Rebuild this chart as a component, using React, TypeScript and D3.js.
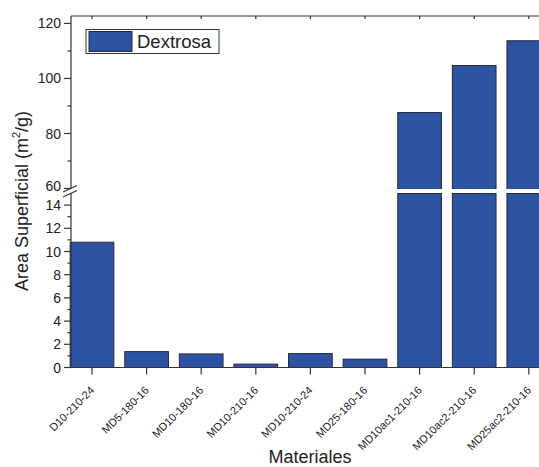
import React, { useEffect, useRef } from 'react';
import * as d3 from 'd3';

// Data
const materials = [
  'D10-210-24',
  'MD5-180-16',
  'MD10-180-16',
  'MD10-210-16',
  'MD10-210-24',
  'MD25-180-16',
  'MD10ac1-210-16',
  'MD10ac2-210-16',
  'MD25ac2-210-16',
];
const areaValues = [10.8, 1.37, 1.17, 0.29, 1.2, 0.72, 87.6, 104.7, 113.7];

const lowerTicks = [0, 2, 4, 6, 8, 10, 12, 14];
const upperTicks = [60, 80, 100, 120];
const lowerMinor = [1, 3, 5, 7, 9, 11, 13];
const upperMinor = [70, 90, 110];

const WIDTH = 539;
const HEIGHT = 467;
const BAR_FILL = '#2f53a3';
const BAR_STROKE = '#23283a';
const AXIS = '#333';
const FONT = 'Arial, "Liberation Sans", sans-serif';

const App: React.FC = () => {
  const svgRef = useRef<SVGSVGElement>(null);

  useEffect(() => {
    document.body.style.margin = '0';
    if (!svgRef.current) return;

    const svg = d3.select(svgRef.current);
    svg.selectAll('*').remove();

    const axisX = 71;

    // Broken y axis: two linear segments
    const yLow = d3.scaleLinear().domain([0, 15]).range([367.5, 193.5]);
    const yHigh = d3.scaleLinear().domain([60, 122.7]).range([188.5, 16]);
    const topFrame = yHigh(122.7);

    const x = d3.scaleBand<string>()
      .domain(materials)
      .range([64.7, 64.7 + 54.6 * materials.length])
      .paddingInner(0.2)
      .paddingOuter(0.1);

    const rows = materials.map((m, i) => ({ name: m, value: areaValues[i] }));

    // Bars - lower segment
    const bars = svg.append('g');
    bars.selectAll('rect.low')
      .data(rows)
      .enter().append('rect')
      .attr('class', 'low')
      .attr('x', d => x(d.name)!)
      .attr('width', x.bandwidth())
      .attr('y', d => yLow(Math.min(d.value, 15)))
      .attr('height', d => yLow(0) - yLow(Math.min(d.value, 15)))
      .attr('fill', BAR_FILL)
      .attr('stroke', BAR_STROKE)
      .attr('stroke-width', 1);

    // Bars - upper segment (only those above the break)
    bars.selectAll('rect.high')
      .data(rows.filter(d => d.value > 60))
      .enter().append('rect')
      .attr('class', 'high')
      .attr('x', d => x(d.name)!)
      .attr('width', x.bandwidth())
      .attr('y', d => yHigh(d.value))
      .attr('height', d => yHigh(60) - yHigh(d.value))
      .attr('fill', BAR_FILL)
      .attr('stroke', BAR_STROKE)
      .attr('stroke-width', 1);

    // cover the stroke at the break edges so the gap stays clean
    bars.selectAll('rect.gap')
      .data(rows.filter(d => d.value > 60))
      .enter().append('rect')
      .attr('x', d => x(d.name)! + 1)
      .attr('width', x.bandwidth() - 2)
      .attr('y', yHigh(60) - 0.5)
      .attr('height', 1)
      .attr('fill', BAR_FILL);

    const axes = svg.append('g')
      .attr('stroke', AXIS)
      .attr('stroke-width', 1.2)
      .attr('fill', 'none');

    // left axis (two pieces)
    axes.append('line')
      .attr('x1', axisX).attr('x2', axisX)
      .attr('y1', topFrame).attr('y2', yHigh(60));
    axes.append('line')
      .attr('x1', axisX).attr('x2', axisX)
      .attr('y1', yLow(15)).attr('y2', yLow(0));

    // top frame + bottom axis
    axes.append('line')
      .attr('x1', axisX).attr('x2', WIDTH)
      .attr('y1', topFrame).attr('y2', topFrame);
    axes.append('line')
      .attr('x1', axisX).attr('x2', WIDTH)
      .attr('y1', yLow(0)).attr('y2', yLow(0));

    // break marks
    [0, 5].forEach(off => {
      axes.append('line')
        .attr('x1', axisX - 8).attr('y1', 192 + off)
        .attr('x2', axisX + 6).attr('y2', 185.5 + off);
    });

    // y ticks
    const majorY = [...lowerTicks.map(v => yLow(v)), ...upperTicks.map(v => yHigh(v))];
    const minorY = [...lowerMinor.map(v => yLow(v)), ...upperMinor.map(v => yHigh(v))];
    majorY.forEach(y => {
      axes.append('line').attr('x1', axisX - 7).attr('x2', axisX).attr('y1', y).attr('y2', y);
    });
    minorY.forEach(y => {
      axes.append('line').attr('x1', axisX - 3.5).attr('x2', axisX).attr('y1', y).attr('y2', y);
    });

    // x ticks bottom (outward) and top (inward)
    materials.forEach(m => {
      const cx = x(m)! + x.bandwidth() / 2;
      axes.append('line').attr('x1', cx).attr('x2', cx).attr('y1', yLow(0)).attr('y2', yLow(0) + 7);
      axes.append('line').attr('x1', cx).attr('x2', cx).attr('y1', topFrame).attr('y2', topFrame + 3);
    });

    // y tick labels
    const labels = svg.append('g')
      .attr('font-family', FONT)
      .attr('fill', '#222');

    lowerTicks.forEach(v => {
      labels.append('text')
        .attr('x', axisX - 10).attr('y', yLow(v))
        .attr('dy', '0.36em')
        .attr('text-anchor', 'end')
        .attr('font-size', 14)
        .text(v);
    });
    upperTicks.forEach(v => {
      labels.append('text')
        .attr('x', axisX - 10).attr('y', yHigh(v))
        .attr('dy', v === 60 ? '0.2em' : '0.36em')
        .attr('text-anchor', 'end')
        .attr('font-size', 14)
        .text(v);
    });

    // x tick labels, rotated
    materials.forEach(m => {
      const cx = x(m)! + x.bandwidth() / 2;
      labels.append('text')
        .attr('transform', `translate(${cx + 3},${391}) rotate(-45)`)
        .attr('text-anchor', 'end')
        .attr('font-size', 11)
        .text(m);
    });

    // axis titles
    labels.append('text')
      .attr('x', 310).attr('y', 463)
      .attr('text-anchor', 'middle')
      .attr('font-size', 18)
      .text('Materiales');

    const yTitle = labels.append('text')
      .attr('transform', 'translate(28,201) rotate(-90)')
      .attr('text-anchor', 'middle')
      .attr('font-size', 18);
    yTitle.append('tspan').text('Area Superficial (m');
    yTitle.append('tspan').attr('font-size', 11).attr('dy', '-0.7em').text('2');
    yTitle.append('tspan').attr('dy', '0.45em').text('/g)');

    // legend
    const legend = svg.append('g');
    legend.append('rect')
      .attr('x', 86).attr('y', 29.5)
      .attr('width', 133).attr('height', 24)
      .attr('fill', '#fff')
      .attr('stroke', AXIS)
      .attr('stroke-width', 1);
    legend.append('rect')
      .attr('x', 89).attr('y', 31.5)
      .attr('width', 43).attr('height', 20)
      .attr('fill', BAR_FILL)
      .attr('stroke', BAR_STROKE)
      .attr('stroke-width', 1);
    legend.append('text')
      .attr('x', 137).attr('y', 48)
      .attr('font-family', FONT)
      .attr('font-size', 18.5)
      .attr('fill', '#222')
      .text('Dextrosa');
  }, []);

  return <svg ref={svgRef} width={WIDTH} height={HEIGHT} style={{ display: 'block', background: '#fff' }} />;
};

export default App;
